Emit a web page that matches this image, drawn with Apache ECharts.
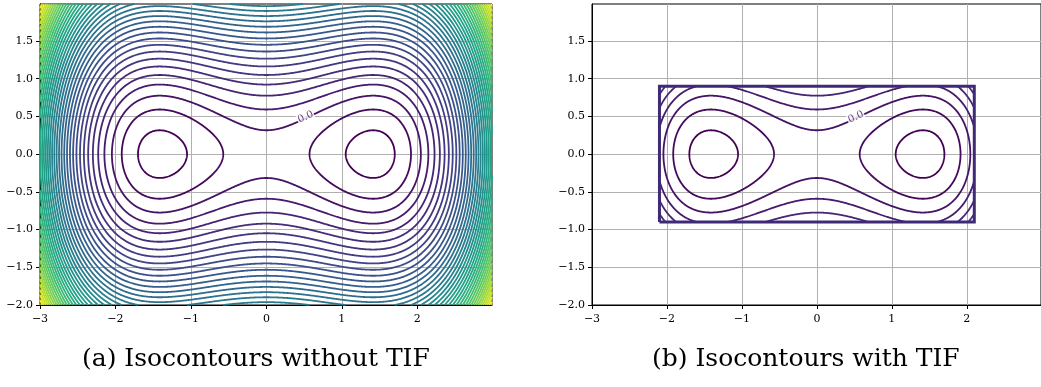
<!DOCTYPE html>
<html>
<head>
<meta charset="utf-8">
<script src="https://cdn.jsdelivr.net/npm/echarts/dist/echarts.min.js"></script>
<style>
  html, body { margin: 0; padding: 0; background: #fff; }
  #chart { width: 1041px; height: 387px; }
</style>
</head>
<body>
<div id="chart"></div>
<script>
// double well field: f = a4*x^4 + a2*x^2 + b2*y^2 + c
const X_COEF = [0.25, -1.0]      // x^4, x^2
const Y_COEF = [2.0]             // y^2
const OFFSET = -0.2
const X_RANGE = [-3, 2.99]
const Y_RANGE = [-2, 1.99]
const TIF_BOX = [-2.1, 2.1, -0.9, 0.9]   // xmin, xmax, ymin, ymax
const LEVELS = [-1.0, -0.5, 0.0, 0.5, 1.0, 1.5, 2.0, 2.5, 3.0, 3.5, 4.0, 4.5, 5.0, 5.5,
  6.0, 6.5, 7.0, 7.5, 8.0, 8.5, 9.0, 9.5, 10.0, 10.5, 11.0, 11.5, 12.0, 12.5, 13.0, 13.5,
  14.0, 14.5, 15.0, 15.5, 16.0, 16.5, 17.0, 17.5, 18.0, 18.5, 19.0]
const X_TICKS = [-3, -2, -1, 0, 1, 2]
const Y_TICKS = [-2.0, -1.5, -1.0, -0.5, 0.0, 0.5, 1.0, 1.5]
const ZERO_LABEL = [0.52, 0.49]
const CAPTIONS = ['(a) Isocontours without TIF', '(b) Isocontours with TIF']

const VIRIDIS = ['#440154', '#482475', '#414487', '#355f8d', '#2a788e', '#21918c',
  '#22a884', '#44bf70', '#7ad151', '#bddf26', '#fde725']

function field(x, y) {
  const x2 = x * x
  return X_COEF[0] * x2 * x2 + X_COEF[1] * x2 + Y_COEF[0] * y * y + OFFSET
}

function hex2rgb(h) {
  return [1, 3, 5].map(i => parseInt(h.substr(i, 2), 16))
}

function viridis(t) {
  t = Math.max(0, Math.min(1, t))
  const p = t * (VIRIDIS.length - 1)
  const i = Math.min(Math.floor(p), VIRIDIS.length - 2)
  const f = p - i
  const a = hex2rgb(VIRIDIS[i])
  const b = hex2rgb(VIRIDIS[i + 1])
  const c = a.map((v, k) => Math.round(v + (b[k] - v) * f))
  return 'rgb(' + c.join(',') + ')'
}

function levelColor(lv) {
  return viridis((lv - LEVELS[0]) / (LEVELS[LEVELS.length - 1] - LEVELS[0]))
}

function sampleGrid(x0, x1, y0, y1, step) {
  const nx = Math.round((x1 - x0) / step) + 1
  const ny = Math.round((y1 - y0) / step) + 1
  const xs = [], ys = []
  for (let i = 0; i < nx; i++) xs.push(x0 + (x1 - x0) * i / (nx - 1))
  for (let j = 0; j < ny; j++) ys.push(y0 + (y1 - y0) * j / (ny - 1))
  const vals = new Float64Array(nx * ny)
  for (let j = 0; j < ny; j++) {
    for (let i = 0; i < nx; i++) vals[j * nx + i] = field(xs[i], ys[j])
  }
  return { xs, ys, nx, ny, vals }
}

// marching squares, segments joined into polylines
function traceLevel(g, level) {
  const { xs, ys, nx, ny, vals } = g
  const pts = new Map()
  const adj = new Map()
  const edgePt = (key, xa, ya, va, xb, yb, vb) => {
    if (!pts.has(key)) {
      const t = (level - va) / (vb - va)
      pts.set(key, [xa + (xb - xa) * t, ya + (yb - ya) * t])
    }
    return key
  }
  const link = (a, b) => {
    if (!adj.has(a)) adj.set(a, [])
    if (!adj.has(b)) adj.set(b, [])
    adj.get(a).push(b)
    adj.get(b).push(a)
  }
  for (let j = 0; j < ny - 1; j++) {
    for (let i = 0; i < nx - 1; i++) {
      const v00 = vals[j * nx + i]
      const v10 = vals[j * nx + i + 1]
      const v01 = vals[(j + 1) * nx + i]
      const v11 = vals[(j + 1) * nx + i + 1]
      const s00 = v00 > level, s10 = v10 > level, s01 = v01 > level, s11 = v11 > level
      if (s00 === s10 && s10 === s11 && s11 === s01) continue
      const x0 = xs[i], x1 = xs[i + 1], y0 = ys[j], y1 = ys[j + 1]
      const eB = () => edgePt((j * nx + i) * 2, x0, y0, v00, x1, y0, v10)
      const eT = () => edgePt(((j + 1) * nx + i) * 2, x0, y1, v01, x1, y1, v11)
      const eL = () => edgePt((j * nx + i) * 2 + 1, x0, y0, v00, x0, y1, v01)
      const eR = () => edgePt((j * nx + i + 1) * 2 + 1, x1, y0, v10, x1, y1, v11)
      const cross = []
      if (s00 !== s10) cross.push(eB())
      if (s10 !== s11) cross.push(eR())
      if (s01 !== s11) cross.push(eT())
      if (s00 !== s01) cross.push(eL())
      if (cross.length === 2) {
        link(cross[0], cross[1])
      } else {
        const sc = (v00 + v10 + v01 + v11) / 4 > level
        if (s00 !== sc) link(eL(), eB())
        if (s10 !== sc) link(eB(), eR())
        if (s11 !== sc) link(eR(), eT())
        if (s01 !== sc) link(eT(), eL())
      }
    }
  }
  const seen = new Set()
  const lines = []
  const walk = start => {
    const path = [pts.get(start)]
    seen.add(start)
    let cur = start
    while (true) {
      const nb = adj.get(cur)
      let next = -1
      for (const k of nb) if (!seen.has(k)) { next = k; break }
      if (next < 0) {
        if (path.length > 2 && nb.includes(start)) path.push(pts.get(start))
        break
      }
      seen.add(next)
      path.push(pts.get(next))
      cur = next
    }
    return path
  }
  for (const [k, nb] of adj) if (nb.length === 1 && !seen.has(k)) lines.push(walk(k))
  for (const k of adj.keys()) if (!seen.has(k)) lines.push(walk(k))
  return lines
}

function contourData(g) {
  const out = []
  LEVELS.forEach(lv => {
    const color = levelColor(lv)
    traceLevel(g, lv).forEach(coords => {
      out.push({ coords, lineStyle: { color } })
    })
  })
  return out
}

const gridA = sampleGrid(X_RANGE[0], X_RANGE[1], Y_RANGE[0], Y_RANGE[1], 0.01)
const gridB = sampleGrid(TIF_BOX[0], TIF_BOX[1], TIF_BOX[2], TIF_BOX[3], 0.01)
const boxCoords = [
  [TIF_BOX[0], TIF_BOX[2]], [TIF_BOX[1], TIF_BOX[2]],
  [TIF_BOX[1], TIF_BOX[3]], [TIF_BOX[0], TIF_BOX[3]], [TIF_BOX[0], TIF_BOX[2]]
]

const FONT = 'DejaVu Serif'
const minus = s => s.replace('-', '\u2212')

function xAxis(idx) {
  return {
    type: 'value', gridIndex: idx, min: X_RANGE[0], max: X_RANGE[1], interval: 1,
    axisLine: { show: true, onZero: false, lineStyle: { color: '#000', width: 1 } },
    axisTick: { show: true, length: 4, customValues: X_TICKS, lineStyle: { color: '#000' } },
    axisLabel: {
      customValues: X_TICKS, margin: 9, fontFamily: FONT, fontSize: 11, color: '#000',
      formatter: v => minus(String(Math.round(v)))
    },
    splitLine: { show: true, lineStyle: { color: '#b0b0b0', width: 1 } }
  }
}

function yAxis(idx) {
  return {
    type: 'value', gridIndex: idx, min: Y_RANGE[0], max: Y_RANGE[1], interval: 0.5,
    axisLine: { show: true, onZero: false, lineStyle: { color: '#000', width: 1 } },
    axisTick: { show: true, length: 4, customValues: Y_TICKS, lineStyle: { color: '#000' } },
    axisLabel: {
      customValues: Y_TICKS, margin: 7, fontFamily: FONT, fontSize: 11, color: '#000',
      formatter: v => minus(v.toFixed(1))
    },
    splitLine: { show: true, lineStyle: { color: '#b0b0b0', width: 1 } }
  }
}

function zeroLabel(idx) {
  return {
    type: 'scatter', xAxisIndex: idx, yAxisIndex: idx, z: 5, silent: true,
    symbolSize: 0,
    data: [ZERO_LABEL],
    label: {
      show: true, position: 'inside', formatter: '0.0', rotate: 25,
      fontFamily: FONT, fontSize: 10, color: levelColor(0),
      backgroundColor: '#fff', padding: [0, 1]
    }
  }
}

const chart = echarts.init(document.getElementById('chart'), null, { renderer: 'canvas' })
chart.setOption({
  animation: false,
  backgroundColor: '#fff',
  grid: [
    { left: 40, top: 4, width: 452, height: 301, show: true, borderColor: '#000', borderWidth: 1 },
    { left: 592, top: 4, width: 452, height: 301, show: true, borderColor: '#000', borderWidth: 1 }
  ],
  xAxis: [xAxis(0), xAxis(1)],
  yAxis: [yAxis(0), yAxis(1)],
  series: [
    {
      type: 'lines', coordinateSystem: 'cartesian2d', xAxisIndex: 0, yAxisIndex: 0,
      polyline: true, silent: true, z: 3,
      lineStyle: { width: 1.8, opacity: 1 },
      data: contourData(gridA)
    },
    {
      type: 'lines', coordinateSystem: 'cartesian2d', xAxisIndex: 1, yAxisIndex: 1,
      polyline: true, silent: true, z: 3,
      lineStyle: { width: 1.8, opacity: 1 },
      data: contourData(gridB)
    },
    {
      type: 'lines', coordinateSystem: 'cartesian2d', xAxisIndex: 1, yAxisIndex: 1,
      polyline: true, silent: true, z: 4,
      lineStyle: { width: 3, opacity: 1, color: '#3f2a78', join: 'miter' },
      data: [{ coords: boxCoords }]
    },
    zeroLabel(0),
    zeroLabel(1)
  ],
  graphic: [
    {
      type: 'text', left: 82, top: 347,
      style: { text: CAPTIONS[0], fontFamily: FONT, fontSize: 25, fill: '#000' }
    },
    {
      type: 'text', left: 652, top: 347,
      style: { text: CAPTIONS[1], fontFamily: FONT, fontSize: 25, fill: '#000' }
    }
  ]
})
</script>
</body>
</html>
